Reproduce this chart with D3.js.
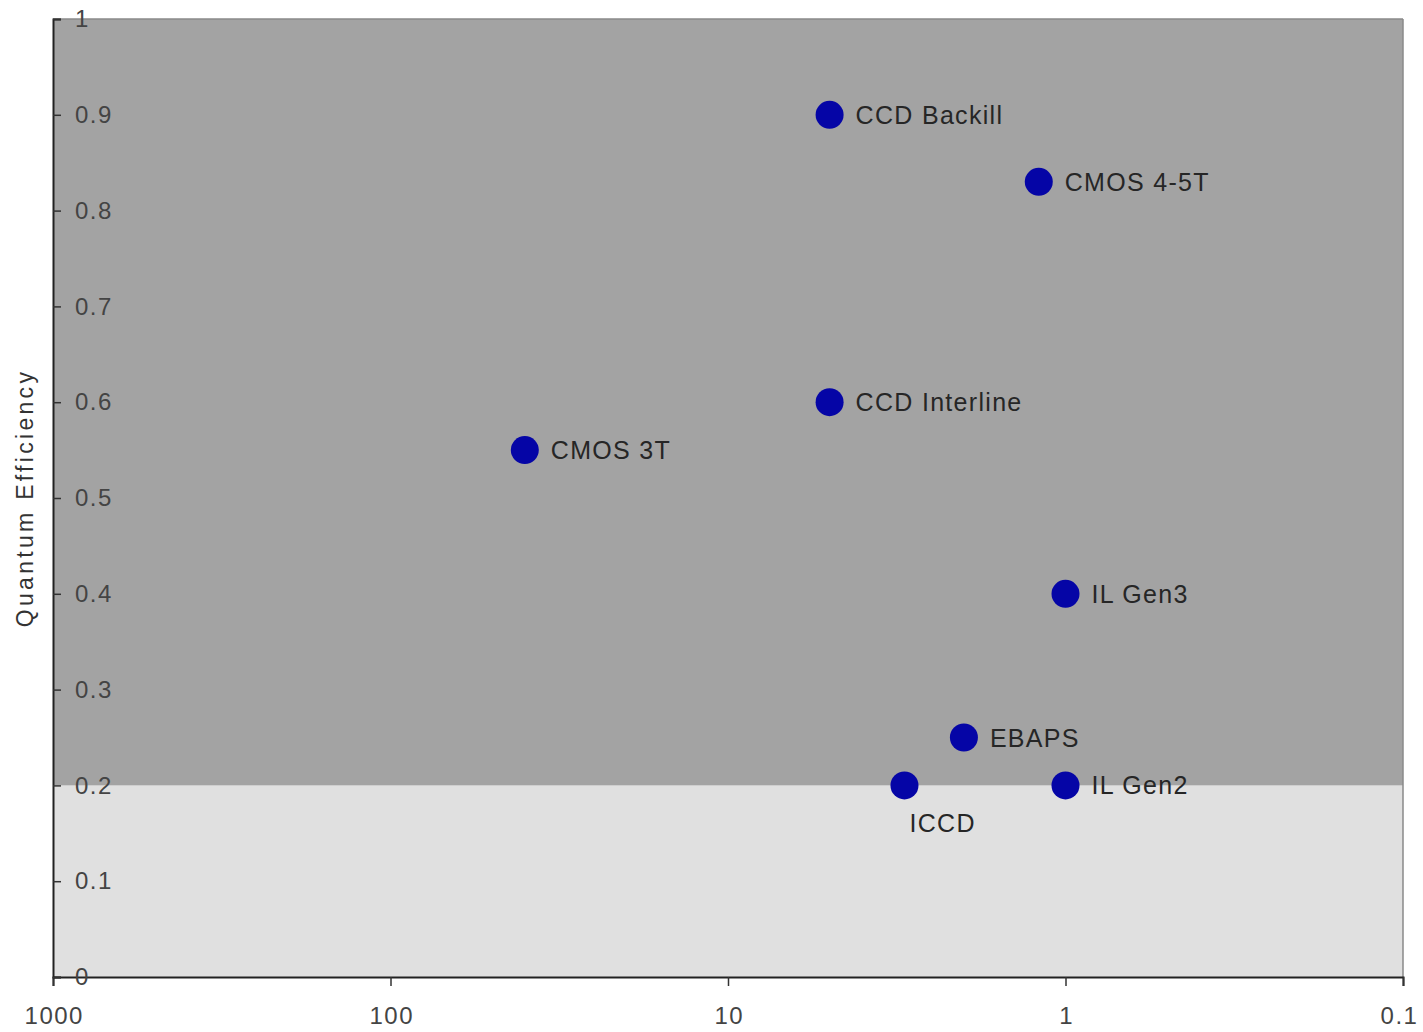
<!DOCTYPE html>
<html>
<head>
<meta charset="utf-8">
<script src="https://d3js.org/d3.v7.min.js"></script>
<style>
  body { margin: 0; background: #fff; }
  text { font-family: "Liberation Sans", Arial, sans-serif; }
</style>
</head>
<body>
<div class="chart"></div>
<script>
// sensor data (x on a reversed log scale, y = quantum efficiency)
let sensors = ["CCD Backill", "CMOS 4-5T", "CCD Interline", "CMOS 3T", "IL Gen3", "EBAPS", "ICCD", "IL Gen2"];
let xValues = [5, 1.2, 5, 40, 1, 2, 3, 1];
let qeValues = [0.9, 0.83, 0.6, 0.55, 0.4, 0.25, 0.2, 0.2];
let labelBelow = ["ICCD"];

let xTicks = [1000, 100, 10, 1, 0.1];
let xTickLabels = ["1000", "100", "10", "1", "0.1"];
let yTicks = [0, 0.1, 0.2, 0.3, 0.4, 0.5, 0.6, 0.7, 0.8, 0.9, 1];

// shaded bands
let bandLimits = [0, 0.2, 1];
let bandColors = ["#e0e0e0", "#a3a3a3"];

let svgWidth = 1423;
let svgHeight = 1032;

let margin = { top: 19, right: 20, bottom: 55, left: 53 };
let width = 1403 - margin.left;
let height = 977 - margin.top;

let svg = d3.select(".chart")
  .append("svg")
  .attr("width", svgWidth)
  .attr("height", svgHeight);

let chart = svg.append("g")
  .attr("transform", `translate(${margin.left}, ${margin.top})`);

let xScale = d3.scaleLog().domain([1000, 0.1]).range([0, width]);
let yScale = d3.scaleLinear().domain([0, 1]).range([height, 0]);

// background bands
chart.selectAll("rect.band")
  .data(bandColors)
  .enter()
  .append("rect")
  .attr("class", "band")
  .attr("x", 0)
  .attr("width", width)
  .attr("y", (d, i) => yScale(bandLimits[i + 1]))
  .attr("height", (d, i) => yScale(bandLimits[i]) - yScale(bandLimits[i + 1]))
  .attr("fill", d => d);

// frame (top + right are lighter)
chart.append("line")
  .attr("x1", 0).attr("x2", width).attr("y1", 0).attr("y2", 0)
  .attr("stroke", "#8a8a8a").attr("stroke-width", 1.5);
chart.append("line")
  .attr("x1", width).attr("x2", width).attr("y1", 0).attr("y2", height)
  .attr("stroke", "#8a8a8a").attr("stroke-width", 1.5);

// x axis
let xAxis = d3.axisBottom(xScale)
  .tickValues(xTicks)
  .tickFormat((d, i) => xTickLabels[i])
  .tickSize(9)
  .tickPadding(21);

let xg = chart.append("g")
  .attr("transform", `translate(0, ${height})`)
  .call(xAxis);
xg.select(".domain").attr("stroke", "#222").attr("stroke-width", 2);
xg.selectAll(".tick line").attr("stroke", "#333").attr("stroke-width", 1.5);
xg.selectAll(".tick text")
  .attr("font-size", "24px")
  .attr("letter-spacing", "1.5px")
  .attr("dx", (d, i) => i === xTicks.length - 1 ? "-4px" : "0.75px")
  .attr("fill", "#444")
  .attr("font-family", "Liberation Sans, Arial, sans-serif");

// y axis, ticks point inward and labels sit inside the plot
let yAxis = d3.axisRight(yScale)
  .tickValues(yTicks)
  .tickFormat(d3.format("~g"))
  .tickSize(8)
  .tickPadding(14);

let yg = chart.append("g").call(yAxis);
yg.select(".domain").attr("stroke", "#222").attr("stroke-width", 2);
yg.selectAll(".tick line").attr("stroke", "#333").attr("stroke-width", 1.5);
yg.selectAll(".tick text")
  .attr("font-size", "24px")
  .attr("letter-spacing", "1.5px")
  .attr("fill", "#444")
  .attr("font-family", "Liberation Sans, Arial, sans-serif");

// y axis title
chart.append("text")
  .attr("transform", `translate(${-20}, ${height / 2}) rotate(-90)`)
  .attr("text-anchor", "middle")
  .attr("font-size", "23px")
  .attr("letter-spacing", "3.3px")
  .attr("fill", "#333")
  .text("Quantum Efficiency");

// points
chart.selectAll("circle.pt")
  .data(sensors)
  .enter()
  .append("circle")
  .attr("class", "pt")
  .attr("cx", (d, i) => xScale(xValues[i]))
  .attr("cy", (d, i) => yScale(qeValues[i]))
  .attr("r", 14)
  .attr("fill", "#0505a6");

// point labels
chart.selectAll("text.lbl")
  .data(sensors)
  .enter()
  .append("text")
  .attr("class", "lbl")
  .attr("x", (d, i) => xScale(xValues[i]) + (labelBelow.includes(d) ? 5 : 26))
  .attr("y", (d, i) => yScale(qeValues[i]) + (labelBelow.includes(d) ? 47 : 9))
  .attr("font-size", "25px")
  .attr("letter-spacing", "1.3px")
  .attr("fill", "#262626")
  .text(d => d);
</script>
</body>
</html>
